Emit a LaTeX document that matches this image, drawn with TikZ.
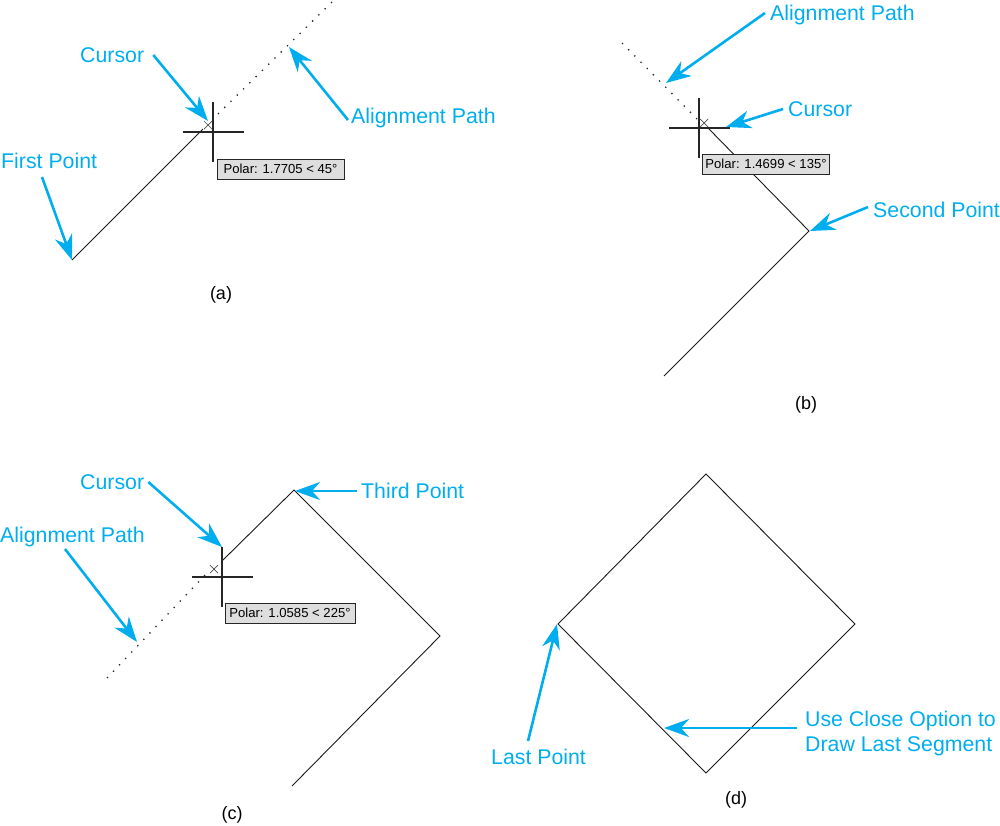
\documentclass[tikz,border=0pt]{standalone}
\usepackage{fontspec}
\setmainfont{Liberation Sans}
\usetikzlibrary{arrows.meta}
\definecolor{calloutblue}{HTML}{00AEEF}
\tikzset{
    calloutblock/.style={
        text=calloutblue,
        inner sep=0,
        align=left,
        font=\fontsize{21.3}{25}\selectfont
    },
    calloutlabel/.style={
        calloutblock,
        text height=15pt,
        text depth=0pt
    },
    calloutarrow/.style={
        draw=calloutblue,
        line width=2.6pt,
        -{Stealth[length=25pt,width=18pt,inset=8pt]}
    },
    captionlabel/.style={
        inner sep=0,
        font=\fontsize{18}{22}\selectfont
    },
    polartip/.style={
        draw=black!85,
        fill=black!13,
        line width=1pt,
        minimum width=127pt,
        minimum height=20pt,
        inner sep=0,
        font=\fontsize{13.1}{15}\selectfont
    },
    segment/.style={
        draw=black!90,
        line width=0.9pt
    },
    alignpath/.style={
        draw=black!85,
        line width=1.3pt,
        dash pattern=on 1.3pt off 7.5pt
    },
    crosshair/.style={
        draw=black!85,
        line width=1.2pt
    }
}

\begin{document}
\begin{tikzpicture}[x=1pt,y=-1pt]
    \useasboundingbox (0,0) rectangle (1000,825);
    % vertices
    \coordinate (firstA) at (72,260);
    \coordinate (endA) at (203,129);
    \coordinate (pathStartA) at (218,114);
    \coordinate (pathEndA) at (334,0);
    \coordinate (cursorEndB) at (708,128);
    \coordinate (secondB) at (809,231);
    \coordinate (firstB) at (664,376);
    \coordinate (pathStartB) at (622,43);
    \coordinate (pathEndB) at (697,119);
    \coordinate (cursorEndC) at (222,561);
    \coordinate (thirdC) at (294,490);
    \coordinate (secondC) at (440,636);
    \coordinate (firstC) at (292,786);
    \coordinate (pathStartC) at (107,678);
    \coordinate (pathEndC) at (207,573);
    \coordinate (topD) at (706,474);
    \coordinate (rightD) at (855,624);
    \coordinate (bottomD) at (706,773);
    \coordinate (leftD) at (558,624);

    % drawn segments
    \draw[segment] (firstA) -- (endA);
    \draw[segment] (cursorEndB) -- (secondB) -- (firstB);
    \draw[segment] (cursorEndC) -- (thirdC) -- (secondC) -- (firstC);
    \draw[segment] (topD) -- (rightD) -- (bottomD) -- (leftD) -- cycle;

    % alignment paths
    \draw[alignpath] (pathStartA) -- (pathEndA);
    \draw[alignpath] (pathStartB) -- (pathEndB);
    \draw[alignpath] (pathStartC) -- (pathEndC);

    % crosshairs, with the small marker beside each
    \foreach \cx/\cy/\mx/\my in {213/132/208/125, 699/128/704/123, 222/577/214/569} {
        \draw[crosshair] (\cx,\cy-30) -- (\cx,\cy+30);
        \draw[crosshair] (\cx-30,\cy) -- (\cx+31,\cy);
        \draw[black!70,line width=0.7pt] (\mx-4,\my-4) -- (\mx+4,\my+4);
        \draw[black!70,line width=0.7pt] (\mx-4,\my+4) -- (\mx+4,\my-4);
    }

    % polar tooltips
    \node[polartip] (tipA) at (280.5,169) {Polar: 1.7705 < 45°};
    \node[polartip] (tipB) at (766,164) {Polar: 1.4699 < 135°};
    \node[polartip,minimum width=130pt] (tipC) at (290,613) {Polar: 1.0585 < 225°};

    % callouts (a)
    \node[calloutlabel,anchor=west] (cursorA) at (80,55) {Cursor};
    \node[calloutlabel,anchor=west] (alignA) at (351,116) {Alignment Path};
    \node[calloutlabel,anchor=west] (firstLabelA) at (1,161) {First Point};
    \coordinate (cursorTipA) at (208,121);
    \coordinate (alignTipA) at (289,47);
    \coordinate (firstTipA) at (72,260);
    \coordinate (firstTailA) at (42,177);
    \draw[calloutarrow] ([xshift=9pt]cursorA.east) -- (cursorTipA);
    \draw[calloutarrow] ([shift={(-3pt,-4pt)}]alignA.west) -- (alignTipA);
    \draw[calloutarrow] (firstTailA) -- (firstTipA);

    % callouts (b)
    \node[calloutlabel,anchor=west] (alignB) at (770,13) {Alignment Path};
    \node[calloutlabel,anchor=west] (cursorB) at (788,109) {Cursor};
    \node[calloutlabel,anchor=west] (secondLabelB) at (873,210) {Second Point};
    \coordinate (alignTipB) at (666,83);
    \coordinate (cursorTipB) at (726,127);
    \coordinate (secondTipB) at (810,231);
    \draw[calloutarrow] ([xshift=-5pt]alignB.west) -- (alignTipB);
    \draw[calloutarrow] ([xshift=-5pt]cursorB.west) -- (cursorTipB);
    \draw[calloutarrow] ([shift={(-5pt,3pt)}]secondLabelB.west) -- (secondTipB);

    % callouts (c)
    \node[calloutlabel,anchor=west] (cursorC) at (80,482) {Cursor};
    \node[calloutlabel,anchor=west] (thirdLabelC) at (361,491) {Third Point};
    \node[calloutlabel,anchor=west] (alignC) at (0,535) {Alignment Path};
    \coordinate (cursorTipC) at (222,547);
    \coordinate (thirdTipC) at (295,491);
    \coordinate (alignTipC) at (137,642);
    \coordinate (alignTailC) at (65,549);
    \draw[calloutarrow] ([xshift=4pt]cursorC.east) -- (cursorTipC);
    \draw[calloutarrow] ([xshift=-4pt]thirdLabelC.west) -- (thirdTipC);
    \draw[calloutarrow] (alignTailC) -- (alignTipC);

    % callouts (d)
    \node[calloutlabel,anchor=west] (lastLabelD) at (491,757) {Last Point};
    \node[calloutblock,anchor=west] (closeD) at (805,733) {Use Close Option to\\Draw Last Segment};
    \coordinate (lastTipD) at (557,624);
    \coordinate (lastTailD) at (528,741);
    \coordinate (closeTipD) at (664,728);
    \draw[calloutarrow] (lastTailD) -- (lastTipD);
    \draw[calloutarrow] ([xshift=-8pt]closeD.west |- closeTipD) -- (closeTipD);

    % captions
    \node[captionlabel] (captionA) at (221,295) {(a)};
    \node[captionlabel] (captionB) at (806,405) {(b)};
    \node[captionlabel] (captionC) at (232,815) {(c)};
    \node[captionlabel] (captionD) at (736,800) {(d)};
\end{tikzpicture}
\end{document}
